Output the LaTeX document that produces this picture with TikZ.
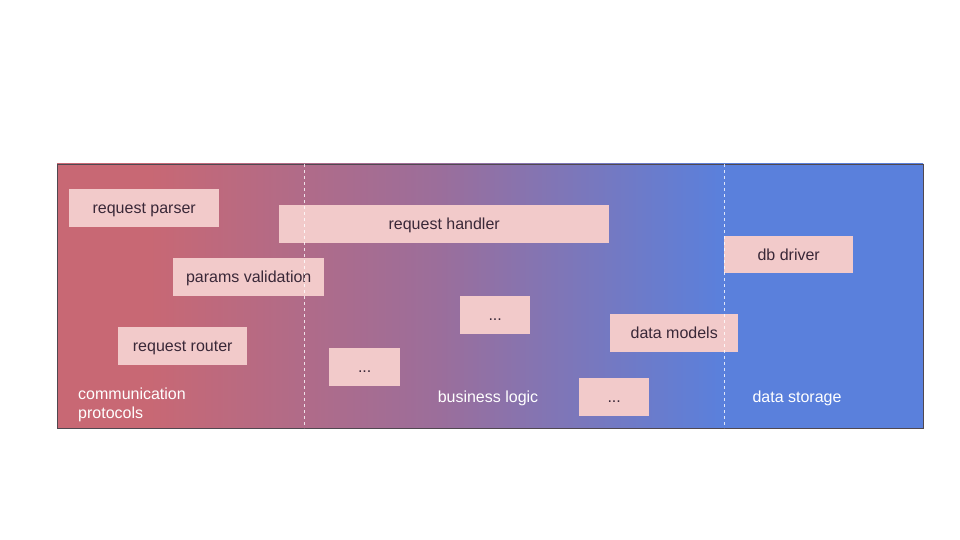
\documentclass[tikz,border=0pt]{standalone}
\usepackage{fontspec}
\setmainfont{Liberation Sans}
\definecolor{lred}{RGB}{200,104,116}
\definecolor{lmid}{RGB}{155,110,155}
\definecolor{lblue}{RGB}{90,128,220}
\definecolor{boxfill}{RGB}{242,202,202}
\definecolor{boxtext}{RGB}{58,40,56}
\definecolor{frame}{RGB}{80,72,80}
\tikzset{
  box/.style={fill=boxfill, draw=none, anchor=north west, inner sep=0pt,
    text height=11.5pt, text depth=0pt,
    font=\fontsize{16}{18}\selectfont, text=boxtext},
  lane/.style={text=white, font=\fontsize{16}{19}\selectfont, inner sep=0pt},
  divider/.style={draw=white, opacity=0.8, dash pattern=on 3pt off 3pt, line width=0.8pt}
}
\begin{document}
\begin{tikzpicture}[x=1pt,y=-1pt]
\useasboundingbox (0,0) rectangle (960,540);
% background bands
\begin{scope}
\clip (57,164) rectangle (923,428);
\fill[lred] (50,150) rectangle (150,440);
\shade[left color=lred, right color=lmid] (149.5,150) rectangle (440,440);
\shade[left color=lmid, right color=lblue] (439.5,150) rectangle (722,440);
\fill[lblue] (721.5,150) rectangle (930,440);
\end{scope}
\draw[frame, line width=0.8pt] (57,164) rectangle (923,428);
% boxes
\node[box, minimum width=150pt, minimum height=38pt] (parser) at (69,189) {request parser};
\node[box, minimum width=330pt, minimum height=38pt] (handler) at (279,205) {request handler};
\node[box, minimum width=151pt, minimum height=38pt] (params) at (173,258) {params validation};
\node[box, minimum width=129pt, minimum height=38pt] (router) at (118,327) {request router};
\node[box, minimum width=71pt, minimum height=38pt] (dots1) at (329,348) {...};
\node[box, minimum width=70pt, minimum height=38pt] (dots2) at (460,296) {...};
\node[box, minimum width=128pt, minimum height=38pt] (models) at (610,314) {data models};
\node[box, minimum width=70pt, minimum height=38pt] (dots3) at (579,378) {...};
\node[box, minimum width=129pt, minimum height=37pt] (driver) at (724,236) {db driver};
% dividers
\coordinate (d1t) at (304,164); \coordinate (d1b) at (304,428);
\coordinate (d2t) at (724,164); \coordinate (d2b) at (724,428);
\draw[divider] (d1t) -- (d1b);
\draw[divider] (d2t) -- (d2b);
% lane labels
\node[lane, anchor=north west, align=left] (comm) at (78,388) {communication\\protocols};
\node[lane] (biz) at (488,398) {business logic};
\node[lane] (store) at (797,398) {data storage};
\end{tikzpicture}
\end{document}
